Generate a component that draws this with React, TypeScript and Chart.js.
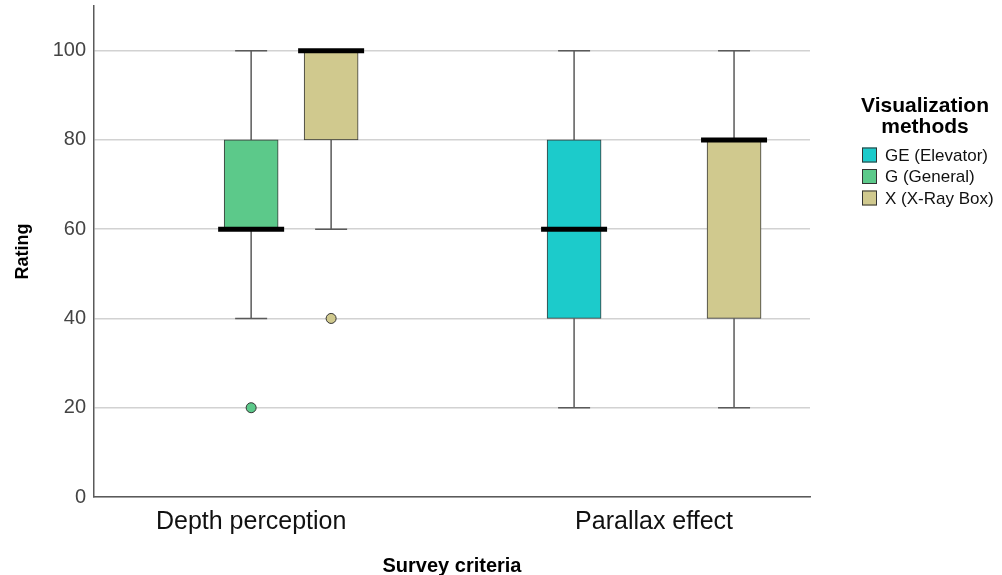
import React, { useEffect, useRef } from 'react';
import { Chart, registerables } from 'chart.js';

Chart.register(...registerables);

// ---- data ----
const categories = ['Depth perception', 'Parallax effect'];
const seriesNames = ['GE (Elevator)', 'G (General)', 'X (X-Ray Box)'];
const seriesColors = ['#1ccbcb', '#5cc98a', '#d0c98e'];
// [min, Q1, median, Q3, max] per category, null when the group is absent
const geStats = [null, [20, 40, 60, 80, 100]];
const gStats = [[40, 60, 60, 80, 100], null];
const xStats = [[60, 80, 100, 100, 100], [20, 40, 80, 80, 100]];
const geOutliers: number[][] = [[], []];
const gOutliers: number[][] = [[20], []];
const xOutliers: number[][] = [[40], []];
const yTicks = [0, 20, 40, 60, 80, 100];
const yMax = 110;
const xTitle = 'Survey criteria';
const yTitle = 'Rating';
const legendTitle = ['Visualization', 'methods'];

const allStats = [geStats, gStats, xStats];
const allOutliers = [geOutliers, gOutliers, xOutliers];
const SLOT = 0.1985;
const slotX = (cat: number, s: number) => cat + (s - 1) * SLOT;
const FONT = "'Liberation Sans', Arial, sans-serif";

const boxExtras = {
  id: 'boxExtras',
  beforeDatasetsDraw(chart: any) {
    const { ctx } = chart;
    const xs = chart.scales.x;
    const ys = chart.scales.y;
    ctx.save();
    ctx.strokeStyle = '#5a5a5a';
    ctx.lineWidth = 1.5;
    allStats.forEach((stats, s) => {
      stats.forEach((st, c) => {
        if (!st) return;
        const px = xs.getPixelForValue(slotX(c, s));
        const [mn, q1, , q3, mx] = st;
        ctx.beginPath();
        ctx.moveTo(px, ys.getPixelForValue(mn));
        ctx.lineTo(px, ys.getPixelForValue(q1));
        ctx.moveTo(px, ys.getPixelForValue(q3));
        ctx.lineTo(px, ys.getPixelForValue(mx));
        ctx.moveTo(px - 16, ys.getPixelForValue(mn));
        ctx.lineTo(px + 16, ys.getPixelForValue(mn));
        ctx.moveTo(px - 16, ys.getPixelForValue(mx));
        ctx.lineTo(px + 16, ys.getPixelForValue(mx));
        ctx.stroke();
      });
    });
    ctx.restore();
  },
  afterDatasetsDraw(chart: any) {
    const { ctx } = chart;
    const xs = chart.scales.x;
    const ys = chart.scales.y;
    ctx.save();
    ctx.strokeStyle = '#000';
    ctx.lineWidth = 5;
    allStats.forEach((stats, s) => {
      stats.forEach((st, c) => {
        if (!st) return;
        const px = xs.getPixelForValue(slotX(c, s));
        const py = ys.getPixelForValue(st[2]);
        ctx.beginPath();
        ctx.moveTo(px - 33, py);
        ctx.lineTo(px + 33, py);
        ctx.stroke();
      });
    });
    ctx.restore();
  },
  afterDraw(chart: any) {
    const { ctx, chartArea } = chart;
    const x0 = chartArea.right;
    ctx.save();
    ctx.fillStyle = '#000';
    ctx.textAlign = 'center';
    ctx.textBaseline = 'middle';
    ctx.font = `bold 21px ${FONT}`;
    legendTitle.forEach((t, i) => ctx.fillText(t, x0 + 115, 106 + i * 21));
    ctx.font = `17px ${FONT}`;
    ctx.textAlign = 'left';
    seriesNames.forEach((name, i) => {
      const cy = 155 + i * 21.5;
      ctx.fillStyle = seriesColors[i];
      ctx.fillRect(x0 + 52, cy - 7.5, 15, 15);
      ctx.strokeStyle = '#333';
      ctx.lineWidth = 1;
      ctx.strokeRect(x0 + 52.5, cy - 7, 14, 14);
      ctx.fillStyle = '#111';
      ctx.fillText(name, x0 + 75, cy + 1);
    });
    ctx.restore();
  },
};

export default function App() {
  const ref = useRef<HTMLCanvasElement | null>(null);
  useEffect(() => {
    if (!ref.current) return;
    const datasets: any[] = [];
    allStats.forEach((stats, s) => {
      datasets.push({
        type: 'bar',
        label: seriesNames[s],
        data: stats
          .map((st, c) => (st ? { x: slotX(c, s), y: [st[1], st[3]] } : null))
          .filter(Boolean),
        backgroundColor: seriesColors[s],
        borderColor: '#3a3a3a',
        borderWidth: 1,
        borderSkipped: false,
        barThickness: 54,
        grouped: false,
        order: 2,
      });
    });
    allOutliers.forEach((outs, s) => {
      const pts: any[] = [];
      outs.forEach((vals, c) => vals.forEach((v) => pts.push({ x: slotX(c, s), y: v })));
      if (!pts.length) return;
      datasets.push({
        type: 'scatter',
        label: seriesNames[s] + ' outliers',
        data: pts,
        backgroundColor: seriesColors[s],
        borderColor: '#333',
        borderWidth: 1,
        pointRadius: 5,
        order: 1,
      });
    });

    const chart = new Chart(ref.current, {
      type: 'bar',
      data: { datasets },
      plugins: [boxExtras],
      options: {
        animation: false,
        responsive: true,
        maintainAspectRatio: false,
        layout: { padding: { top: 6, right: 192, left: 0, bottom: 0 } },
        plugins: { legend: { display: false }, tooltip: { enabled: false } },
        scales: {
          x: {
            type: 'linear',
            min: -0.39,
            max: 1.387,
            offset: false,
            grid: { display: false, drawTicks: false },
            border: { display: true, color: '#5a5a5a', width: 1.5 },
            afterBuildTicks: (scale: any) => {
              scale.ticks = categories.map((_, i) => ({ value: i }));
            },
            afterFit: (scale: any) => {
              scale.height = 78;
              scale.paddingLeft = 0;
              scale.paddingRight = 0;
            },
            ticks: {
              autoSkip: false,
              maxRotation: 0,
              padding: 10,
              color: '#111',
              font: { family: FONT, size: 25 },
              callback: (v: any) => categories[Math.round(Number(v))],
            },
            title: {
              display: true,
              text: xTitle,
              color: '#000',
              font: { family: FONT, size: 20, weight: 'bold' },
              padding: { top: 0, bottom: -3 },
            },
          },
          y: {
            type: 'linear',
            min: 0,
            max: yMax,
            grid: { color: '#d2d2d2', lineWidth: 1.5, drawTicks: false },
            border: { display: true, color: '#5a5a5a', width: 1.5 },
            afterBuildTicks: (scale: any) => {
              scale.ticks = [...yTicks, yMax].map((v) => ({ value: v }));
            },
            afterFit: (scale: any) => {
              scale.width = 94;
              scale.paddingTop = 0;
              scale.paddingBottom = 0;
            },
            ticks: {
              padding: 8,
              color: '#444',
              font: { family: FONT, size: 20 },
              callback: (v: any) => (yTicks.includes(Number(v)) ? String(v) : null),
            },
            title: {
              display: true,
              text: yTitle,
              color: '#000',
              font: { family: FONT, size: 18, weight: 'bold' },
              padding: { top: 12, bottom: 0 },
            },
          },
        },
      } as any,
    });
    return () => chart.destroy();
  }, []);

  return (
    <div style={{ position: 'fixed', left: 0, top: 0, width: 1002, height: 575, background: '#fff' }}>
      <canvas ref={ref} />
    </div>
  );
}
